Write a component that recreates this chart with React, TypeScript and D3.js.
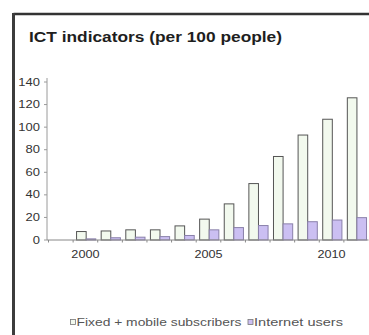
import React from "react";
import * as d3 from "d3";

const years = ["1999", "2000", "2001", "2002", "2003", "2004", "2005", "2006", "2007", "2008", "2009", "2010", "2011"];
const fixedMobile: (number | null)[] = [null, 7.5, 8, 9, 9, 12.5, 18.5, 32, 50, 74, 93, 107, 126];
const internetUsers: (number | null)[] = [null, 1, 2, 2.5, 3, 4, 9, 11, 12.8, 14.3, 16.2, 17.7, 19.8];
const yTicks = [0, 20, 40, 60, 80, 100, 120, 140];
const yearLabels = ["2000", "2005", "2010"];
const seriesNames = ["Fixed + mobile subscribers", "Internet users"];
const seriesData = [fixedMobile, internetUsers];
const seriesFill = ["#f2f9ee", "#cbbff2"];
const seriesStroke = ["#555555", "#8a80aa"];

const W = 369;
const H = 335;
const FONT = "'Liberation Sans', Arial, sans-serif";

export default function App() {
  const x = d3.scaleBand<string>().domain(years).range([48.5, 368.5]).padding(0);
  const bw = x.bandwidth();
  const inner = d3.scaleBand<string>().domain(seriesNames).range([bw * 0.14, bw * 0.92]).padding(0);
  const y = d3.scaleLinear().domain([0, 140]).range([240, 82]);
  const y0 = y(0);

  return (
    <svg width={W} height={H} style={{ position: "absolute", left: 0, top: 0, background: "#fff" }}>
      <rect x={0} y={0} width={W} height={H} fill="#fff" />
      {/* frame */}
      <line x1={13.5} y1={14} x2={W} y2={14} stroke="#333" strokeWidth={2.5} />
      <line x1={13.5} y1={13} x2={13.5} y2={H} stroke="#3c3c3c" strokeWidth={3} />

      {/* title */}
      <text x={29} y={42} fontFamily={FONT} fontWeight="bold" fontSize={14} fill="#1e1e1e"
        textLength={253} lengthAdjust="spacingAndGlyphs">ICT indicators (per 100 people)</text>

      {/* y axis */}
      <line x1={47} y1={78} x2={47} y2={y0} stroke="#9a9a9a" strokeWidth={1} />
      {yTicks.map((t) => (
        <g key={t}>
          <line x1={44} x2={47} y1={y(t)} y2={y(t)} stroke="#9a9a9a" strokeWidth={1} />
          <text transform={`translate(40,${y(t) + 3.5}) scale(1.3,1)`} textAnchor="end"
            fontFamily={FONT} fontSize={10} fill="#333">{t}</text>
        </g>
      ))}

      {/* bars */}
      {years.map((yr, i) => (
        <g key={yr}>
          {seriesData.map((s, j) => {
            const v = s[i];
            if (v == null) return null;
            const bx = (x(yr) as number) + (inner(seriesNames[j]) as number);
            return (
              <rect key={j} x={bx} y={y(v)} width={inner.bandwidth()} height={y0 - y(v)}
                fill={seriesFill[j]} stroke={seriesStroke[j]} strokeWidth={1} />
            );
          })}
        </g>
      ))}

      {/* x axis */}
      <line x1={47} x2={368.5} y1={y0} y2={y0} stroke="#888" strokeWidth={1} />
      {years.map((yr) => (
        <line key={yr} x1={x(yr) as number} x2={x(yr) as number} y1={y0} y2={y0 + 2.5} stroke="#888" strokeWidth={1} />
      ))}
      {yearLabels.map((yr) => (
        <text key={yr} transform={`translate(${(x(yr) as number) + bw / 2},258) scale(1.15,1)`} textAnchor="middle"
          fontFamily={FONT} fontSize={11} fill="#333">{yr}</text>
      ))}

      {/* legend */}
      <rect x={70.5} y={319.5} width={5} height={5} fill={seriesFill[0]} stroke="#777" strokeWidth={0.8} />
      <text x={76.5} y={326} fontFamily={FONT} fontSize={10} fill="#555" textLength={165}
        lengthAdjust="spacingAndGlyphs">{seriesNames[0]}</text>
      <rect x={248} y={319.5} width={5} height={5} fill={seriesFill[1]} stroke="#777" strokeWidth={0.8} />
      <text x={254} y={326} fontFamily={FONT} fontSize={10} fill="#555" textLength={89}
        lengthAdjust="spacingAndGlyphs">{seriesNames[1]}</text>
    </svg>
  );
}
